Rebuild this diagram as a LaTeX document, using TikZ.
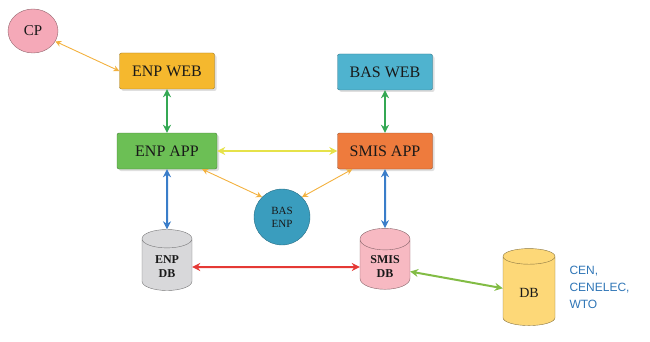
\documentclass[tikz,border=0pt]{standalone}
\usepackage{fontspec}
\setmainfont{Liberation Serif}
\newfontfamily\orgfont{Liberation Sans}
\usetikzlibrary{shapes.geometric,arrows.meta,shadows}

\definecolor{cppink}{HTML}{F5A9B8}
\definecolor{webgold}{HTML}{F5B82E}
\definecolor{webblue}{HTML}{4FB3CF}
\definecolor{appgreen}{HTML}{6CBF55}
\definecolor{apporange}{HTML}{EE7B3D}
\definecolor{basteal}{HTML}{3A9DBE}
\definecolor{dbgrey}{HTML}{D8D8DA}
\definecolor{dbpink}{HTML}{F7B9C2}
\definecolor{dbyellow}{HTML}{FDD878}
\definecolor{lgreen}{HTML}{34A853}
\definecolor{lyellow}{HTML}{E6E24A}
\definecolor{lorange}{HTML}{F3B13E}
\definecolor{lblue}{HTML}{3A7DC9}
\definecolor{lred}{HTML}{E53935}
\definecolor{llime}{HTML}{82BC45}
\definecolor{orgblue}{HTML}{2E75B6}

\begin{document}
\begin{tikzpicture}[x=1pt, y=-1pt, text=black!90,
  box/.style={draw=#1!65!black, fill=#1, rounded corners=2pt, minimum width=95pt, minimum height=36pt, font=\fontsize{16}{18}\selectfont, drop shadow={opacity=0.25, shadow xshift=2pt, shadow yshift=-2pt}},
  db/.style={cylinder, shape border rotate=90, aspect=0.6, draw=#1!55!black, fill=#1, minimum width=50pt, minimum height=61pt, align=center, font=\bfseries\fontsize{12}{14}\selectfont},
  link/.style={<->, >={Stealth[length=8pt,width=8pt]}, line width=2pt},
  thinlink/.style={<->, >={Stealth[length=6pt,width=6pt]}, line width=0.9pt, draw=lorange}]
\useasboundingbox (0,0) rectangle (650,342);
\node[ellipse, draw=cppink!60!black, fill=cppink, minimum width=50pt, minimum height=44pt, font=\fontsize{15}{17}\selectfont] (cp) at (33,31) {CP};
\node[box=webgold] (enpweb) at (167,71) {ENP WEB};
\node[box=webblue] (basweb) at (385,72) {BAS WEB};
\node[box=appgreen, minimum width=100pt] (enpapp) at (167,151) {ENP APP};
\node[box=apporange] (smisapp) at (385,151) {SMIS APP};
\node[circle, fill=basteal, draw=basteal!70!black, minimum size=56pt, align=center, font=\fontsize{11}{13}\selectfont] (basenp) at (282,217) {BAS\\ENP};
\node[db=dbgrey] (enpdb) at (167,267) {ENP\\DB};
\node[db=dbpink] (smisdb) at (385,267) {SMIS\\DB};
\node[db=dbyellow, minimum width=52pt, minimum height=77pt, font=\fontsize{14}{16}\selectfont] (db) at (529,293) {DB};
\node[anchor=west, align=left, text=orgblue, font=\orgfont\fontsize{12}{17}\selectfont] (org) at (566,287) {CEN,\\CENELEC,\\WTO};
\draw[thinlink] (cp) -- (enpweb.west);
\draw[link, draw=lgreen] (enpweb) -- (enpapp);
\draw[link, draw=lgreen] (basweb) -- (smisapp);
\draw[link, draw=lyellow] (enpapp) -- (smisapp);
\draw[thinlink] ([xshift=-15pt]enpapp.south east) -- (basenp.135);
\draw[thinlink] ([xshift=15pt]smisapp.south west) -- (basenp.45);
\draw[link, draw=lblue] (enpapp) -- (enpdb);
\draw[link, draw=lblue] (smisapp) -- (smisdb);
\draw[link, draw=lred] (enpdb) -- (smisdb);
\draw[link, draw=llime] (smisdb) -- (db);
\end{tikzpicture}
\end{document}
